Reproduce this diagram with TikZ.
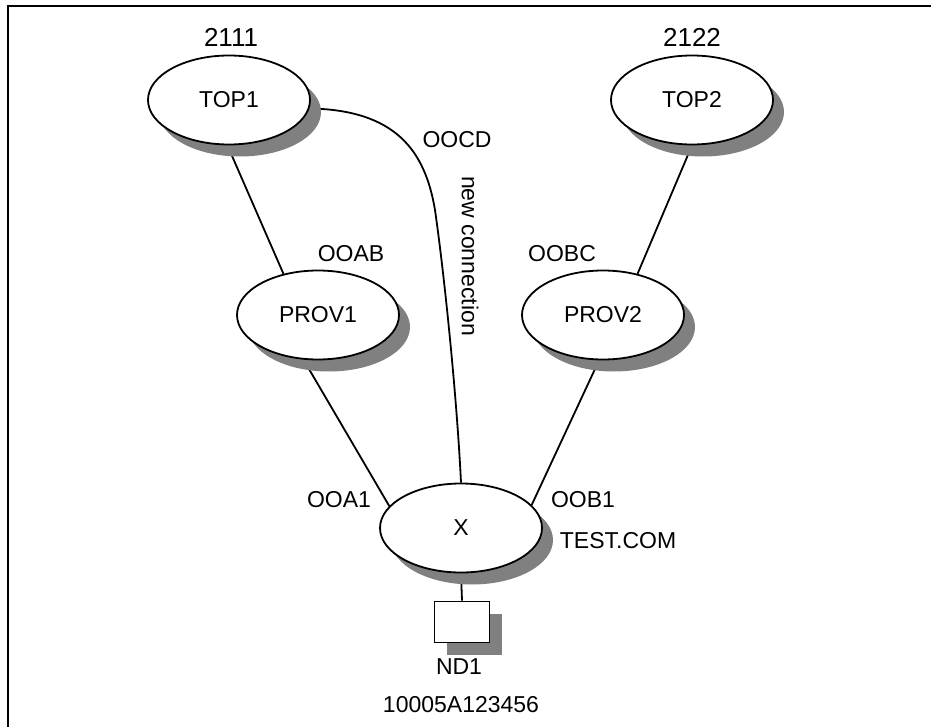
\documentclass[tikz,border=0pt]{standalone}
\usepackage{fontspec}
\setmainfont{Liberation Sans}
\usetikzlibrary{shapes.geometric,shadows,backgrounds}
\begin{document}
\begin{tikzpicture}[x=1pt,y=-1pt,
  every node/.style={font=\fontsize{23}{27}\selectfont, inner sep=0pt},
  num/.style={font=\fontsize{26}{30}\selectfont},
  ell/.style={ellipse, draw, fill=white, line width=1.8pt, minimum width=162pt, minimum height=89pt,
    drop shadow={shadow xshift=11pt, shadow yshift=-12pt, fill=black!50, opacity=1}},
  sqbox/.style={rectangle, draw, fill=white, line width=1.8pt, minimum width=55pt, minimum height=41pt,
    drop shadow={shadow xshift=12pt, shadow yshift=-12pt, fill=black!50, opacity=1}},
  conn/.style={line width=1.8pt}]
\useasboundingbox (0,0) rectangle (931,727);
\draw[line width=1.8pt] (931,6) -- (8,6) -- (8,727);

\node[ell] (top1) at (229,100) {TOP1};
\node[ell] (top2) at (692,100) {TOP2};
\node[ell] (prov1) at (318,315) {PROV1};
\node[ell] (prov2) at (603,315) {PROV2};
\node[ell] (x) at (461,528) {X};
\node[sqbox] (nd) at (462,622) {};

\node[num] (l2111) at (231,37) {2111};
\node[num] (l2122) at (692,37) {2122};
\node (oocd) at (457,140) {OOCD};
\node[rotate=-90] (newc) at (470,256) {new connection};
\node (ooab) at (351,254) {OOAB};
\node (oobc) at (562,254) {OOBC};
\node (ooa1) at (339,500) {OOA1};
\node (oob1) at (583,500) {OOB1};
\node (test) at (618,541) {TEST.COM};
\node (nd1) at (459,667) {ND1};
\node (addr) at (461,705) {10005A123456};

\begin{scope}[on background layer]
\draw[conn] (top1.-92) -- (prov1.130);
\draw[conn] (prov1.-108) -- (x.163);
\draw[conn] (top2.-90) -- (prov2.50);
\draw[conn] (prov2.-95) -- (x.18);
\draw[conn] (top1.-6) .. controls (395,110) and (425,150) .. (435,210)
  .. controls (445,280) and (457,400) .. (x.north);
\draw[conn] (x.south) -- (nd.north);
\end{scope}
\end{tikzpicture}
\end{document}
